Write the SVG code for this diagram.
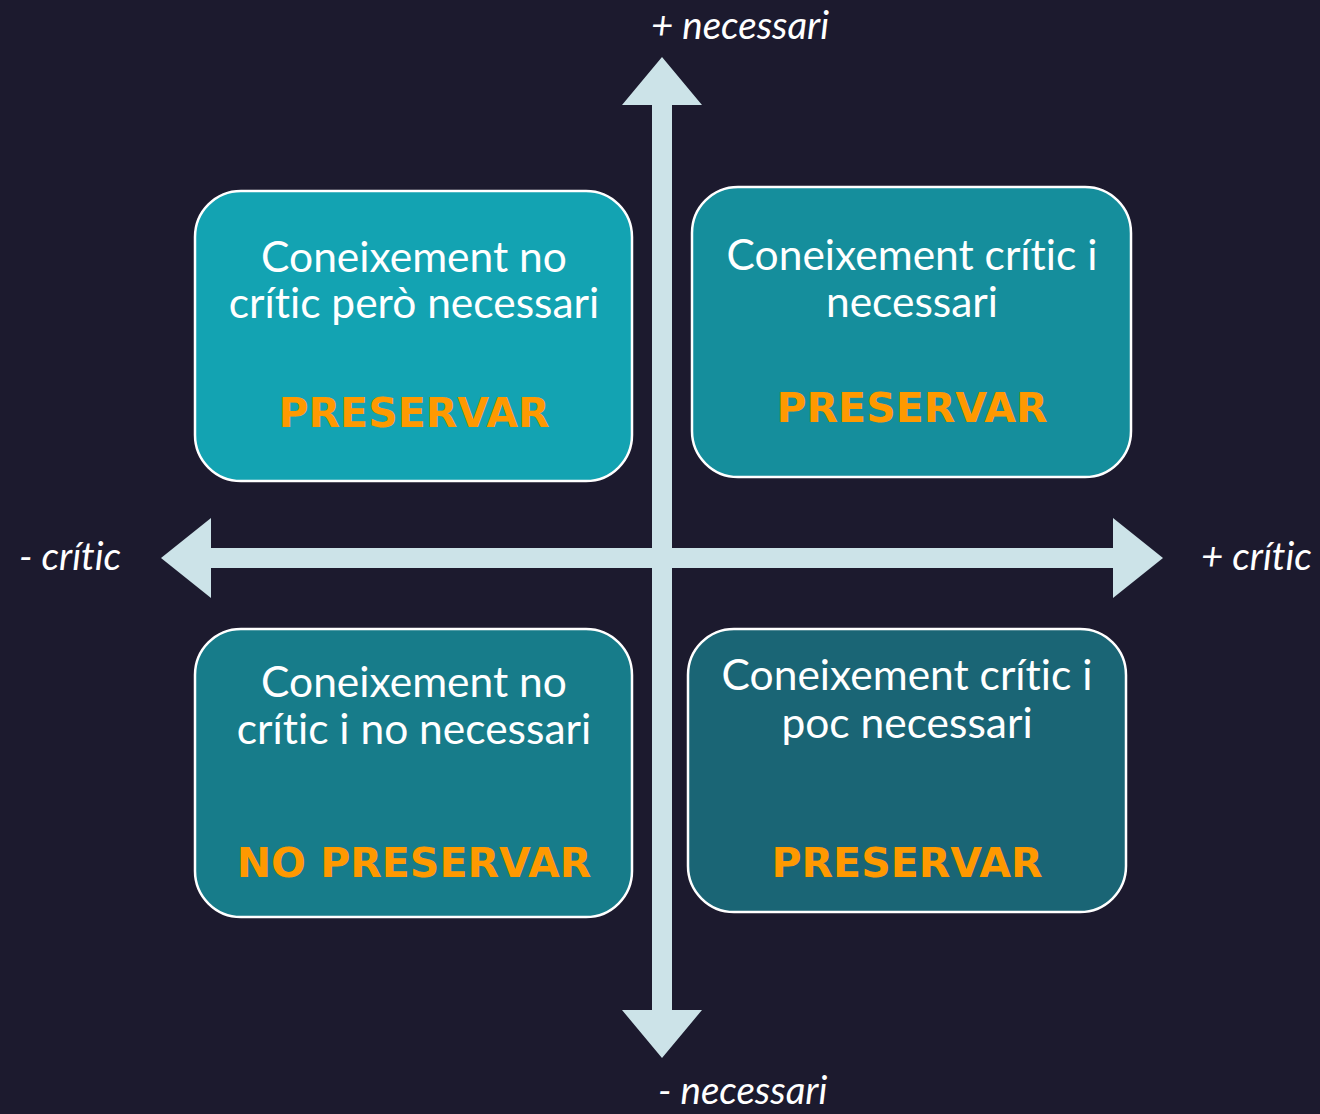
<svg xmlns="http://www.w3.org/2000/svg" width="1320" height="1114" viewBox="0 0 1320 1114">
<style>
.box{stroke:#ffffff;stroke-width:2.5}
.t{font-family:Lato,"Open Sans",sans-serif;font-size:42.5px;fill:#ffffff;text-anchor:middle;font-variant-ligatures:none}
.p{font-family:"DejaVu Sans",Verdana,sans-serif;font-weight:bold;font-size:41px;fill:#ff9900;text-anchor:middle}
.ax{font-family:Lato,"Open Sans",sans-serif;font-style:italic;font-size:38.5px;fill:#ffffff;font-variant-ligatures:none}
.arrow{fill:#cce3e8}
</style>
<rect width="1320" height="1114" fill="#1c1a2e"/>
<g id="connectors">
<polygon class="arrow" points="662,57 702,105 672,105 672,548 1113,548 1113,518 1163,558 1113,598 1113,568 672,568 672,1010 702,1010 662,1058 622,1010 652,1010 652,568 211,568 211,598 161,558 211,518 211,548 652,548 652,105 622,105"/>
</g>
<g id="label-top"><text class="ax" x="651" y="39">+ necessari</text></g>
<g id="label-bottom"><text class="ax" x="658" y="1104">- necessari</text></g>
<g id="label-left"><text class="ax" x="19" y="570">- crític</text></g>
<g id="label-right"><text class="ax" x="1201" y="570">+ crític</text></g>
<g id="node-tl">
<rect class="box" x="195" y="191" width="437" height="290" rx="46" fill="#13a3b2"/>
<text class="t" x="414" y="272">Coneixement no</text>
<text class="t" x="414" y="318">crític però necessari</text>
<text class="p" x="414" y="427">PRESERVAR</text>
</g>
<g id="node-tr">
<rect class="box" x="692" y="187" width="439" height="290" rx="46" fill="#158e9c"/>
<text class="t" x="912" y="270">Coneixement crític i</text>
<text class="t" x="912" y="317">necessari</text>
<text class="p" x="912" y="422">PRESERVAR</text>
</g>
<g id="node-bl">
<rect class="box" x="195" y="629" width="437" height="288" rx="46" fill="#177c8a"/>
<text class="t" x="414" y="697">Coneixement no</text>
<text class="t" x="414" y="744">crític i no necessari</text>
<text class="p" x="414" y="877">NO PRESERVAR</text>
</g>
<g id="node-br">
<rect class="box" x="688" y="629" width="438" height="283" rx="46" fill="#1a6575"/>
<text class="t" x="907" y="690">Coneixement crític i</text>
<text class="t" x="907" y="738">poc necessari</text>
<text class="p" x="907" y="877">PRESERVAR</text>
</g>
</svg>
